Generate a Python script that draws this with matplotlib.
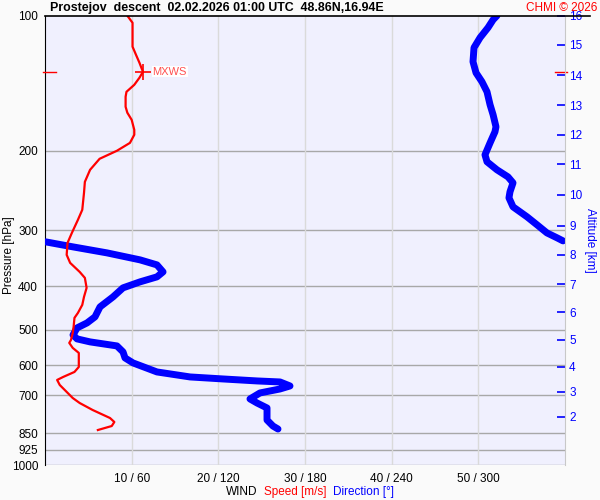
import numpy as np
import matplotlib
matplotlib.use("Agg")
import matplotlib.pyplot as plt
from matplotlib import ticker

plt.rcParams['font.family'] = ['Liberation Sans', 'DejaVu Sans']

# wind speed profile [hPa, m/s]
spd_p = [100, 103.7, 117.2, 122.2, 127.3, 133.3, 137.4, 142.5, 147.7, 151.5,
         159.5, 164.4, 170.5, 179.5, 184.1, 191.9, 199.8, 208.2, 220.3, 234.3,
         247.9, 270.4, 284.6, 304.4, 320.4, 340.6, 354.9, 371.7, 383.3, 403.4,
         422.5, 440.2, 458.6, 470.5, 492.7, 508.1, 526.7, 534.9, 548.8, 563.0,
         605.0, 620.7, 636.8, 646.7, 663.5, 709.4, 727.8, 754.4, 786.0, 802.2,
         818.9, 835.9]
spd = [9.5, 10.1, 10.1, 10.5, 10.9, 11.3, 10.9, 10.3, 9.4, 9.3,
       9.3, 9.5, 10.0, 10.3, 10.3, 9.8, 8.3, 6.3, 5.2, 4.6,
       4.5, 4.3, 3.8, 3.1, 2.6, 2.5, 2.9, 4.0, 4.6, 4.8,
       4.5, 4.3, 3.8, 3.4, 3.3, 3.2, 3.0, 2.8, 3.2, 3.9,
       3.9, 3.4, 2.1, 1.4, 1.7, 3.2, 4.0, 5.5, 7.5, 8.0,
       7.7, 6.1]

# wind direction profile [hPa, deg]
dir_p = [100, 102.1, 106.3, 111.9, 117.8, 126.6, 134.0, 140.3, 147.7, 157.8,
         166.1, 176.7, 181.3, 191.9, 204.0, 211.4, 220.3, 228.4, 235.5, 246.6,
         254.3, 266.3, 280.3, 292.0, 304.4, 312.2, 317.1, 318.7, 327.0, 337.2,
         349.5, 358.6, 371.7, 381.3, 391.2, 403.4, 422.5, 444.7, 468.1, 482.8,
         495.3, 513.4, 524.0, 532.1, 543.2, 560.1, 577.7, 592.6, 620.7, 636.8,
         643.4, 650.0, 653.4, 666.9, 677.3, 691.3, 712.8, 727.8, 746.6, 794.1,
         818.9, 831.6]
wdir = [312.9, 310.2, 306.7, 301.2, 297.0, 296.3, 298.4, 302.5, 306.0, 308.1,
        310.2, 312.2, 311.5, 308.1, 304.6, 306.0, 312.9, 320.5, 324.0, 321.9,
        321.2, 324.0, 333.7, 340.6, 347.5, 354.5, 358.6, 0.5, 19.4, 42.9,
        65.8, 77.5, 81.7, 77.5, 65.8, 54.0, 47.1, 38.1, 34.6, 29.1,
        22.2, 19.4, 22.2, 31.2, 49.8, 54.0, 55.4, 60.9, 77.5, 100.4,
        123.2, 146.8, 162.7, 169.6, 162.7, 148.8, 141.9, 146.8, 153.7, 153.7,
        157.8, 161.3]

# max wind
mxws_p, mxws_v = 133.3, 11.3

p_ticks = [100, 200, 300, 400, 500, 600, 700, 850, 925, 1000]
spd_ticks = [10, 20, 30, 40, 50]
km_labels = [16, 15, 14, 13, 12, 11, 10, 9, 8, 7, 6, 5, 4, 3, 2]
km_p = [100.0, 116.0, 135.8, 158.4, 184.1, 213.9, 250.5, 293.1, 340.6,
        395.8, 457.0, 526.7, 604.1, 687.8, 780.7]

fig = plt.figure(figsize=(6, 5), dpi=100, facecolor='#fafafa')
ax = fig.add_axes([0.075, 0.07, 0.8667, 0.8986])
ax.set_facecolor('#f0f0fe')
ax.set_yscale('log')
ax.set_ylim(1000, 100)
ax.set_xlim(0, 60)

# direction on its own x scale (shares pressure axis)
axd = ax.twiny()
axd.set_xlim(0, 360)
axd.set_xticks([])
for sp in axd.spines.values():
    sp.set_visible(False)

# speed drawn above direction
axs = axd.twiny()
axs.set_xlim(0, 60)
axs.set_xticks([])
for sp in axs.spines.values():
    sp.set_visible(False)

# split direction line where it wraps 360 -> 0
d = np.array(wdir)
pp = np.array(dir_p)
breaks = np.where(np.abs(np.diff(d)) > 180)[0] + 1
for seg_d, seg_p in zip(np.split(d, breaks), np.split(pp, breaks)):
    axd.plot(seg_d, seg_p, color='#0000ff', lw=5, solid_capstyle='round',
             solid_joinstyle='round', zorder=3)

axs.plot(spd, spd_p, color='#ff0000', lw=1.6, zorder=4)
axs.plot([mxws_v], [mxws_p], marker='+', ms=12, mew=1.2, color='#ff0000')
axs.text(mxws_v + 1.1, mxws_p, 'MXWS', color='#ff5050', fontsize=8, va='center',
         bbox=dict(facecolor='white', edgecolor='none', pad=0.5))
axs.plot([-0.25, 1.3], [mxws_p, mxws_p], color='#ff0000', lw=1, clip_on=False)
axs.plot([58.8, 60.2], [mxws_p, mxws_p], color='#ff0000', lw=1, clip_on=False)

# pressure ticks (after twins, so they are not reset)
ax.set_ylim(1000, 100)
ax.yaxis.set_major_locator(ticker.FixedLocator(p_ticks))
ax.yaxis.set_major_formatter(ticker.FixedFormatter([str(p) for p in p_ticks]))
ax.yaxis.set_minor_locator(ticker.NullLocator())
ax.set_xticks(spd_ticks)
ax.set_xticklabels([f"{s} / {s * 6}" for s in spd_ticks])
ax.tick_params(axis='both', which='both', length=0, labelsize=8.5, pad=5)
ax.tick_params(axis='x', pad=6)
for p in p_ticks[1:]:
    ax.axhline(p, color='#a8a8a8', lw=1, zorder=1)
for s in spd_ticks:
    ax.axvline(s, color='#dadada', lw=1, zorder=1)
for side in ['bottom', 'right', 'top']:
    ax.spines[side].set_visible(False)
ax.spines['left'].set_color('black')
fig.text(9 / 600, 1 - 255 / 500, 'Pressure [hPa]', fontsize=8.5, rotation=90,
         ha='center', va='center')

# altitude axis
axa = ax.twinx()
axa.set_yscale('log')
axa.set_ylim(1000, 100)
axa.yaxis.set_major_locator(ticker.FixedLocator(km_p))
axa.yaxis.set_major_formatter(ticker.FixedFormatter([str(k) for k in km_labels]))
axa.yaxis.set_minor_locator(ticker.NullLocator())
axa.tick_params(axis='y', direction='in', length=6, width=1.2, colors='#0000ff',
                labelsize=8.5, pad=3)
for side in ['left', 'top', 'bottom']:
    axa.spines[side].set_visible(False)
axa.spines['right'].set_color('#c8c8c8')
axa.set_ylabel('Altitude [km]', color='#0000ff', fontsize=8.5, rotation=270,
               labelpad=10)

# top border
fig.add_artist(plt.Line2D([45 / 600, 590 / 600], [1 - 15.7 / 500] * 2,
                          color='black', lw=1.2))

fig.text(50 / 600, 1 - 8 / 500,
         'Prostejov  descent  02.02.2026 01:00 UTC  48.86N,16.94E',
         fontsize=8.9, fontweight='bold', va='center', ha='left')
fig.text(597 / 600, 1 - 8 / 500, 'CHMI \u00a9 2026', color='#ff0000',
         fontsize=8.5, va='center', ha='right')

fig.text(226 / 600, 1 - 492 / 500, 'WIND', fontsize=8.5, va='center')
fig.text(264 / 600, 1 - 492 / 500, 'Speed [m/s]', color='#ff0000', fontsize=8.5,
         va='center')
fig.text(333 / 600, 1 - 492 / 500, 'Direction [\u00b0]', color='#0000ff',
         fontsize=8.5, va='center')

fig.savefig('out.png', dpi=100, facecolor=fig.get_facecolor())
